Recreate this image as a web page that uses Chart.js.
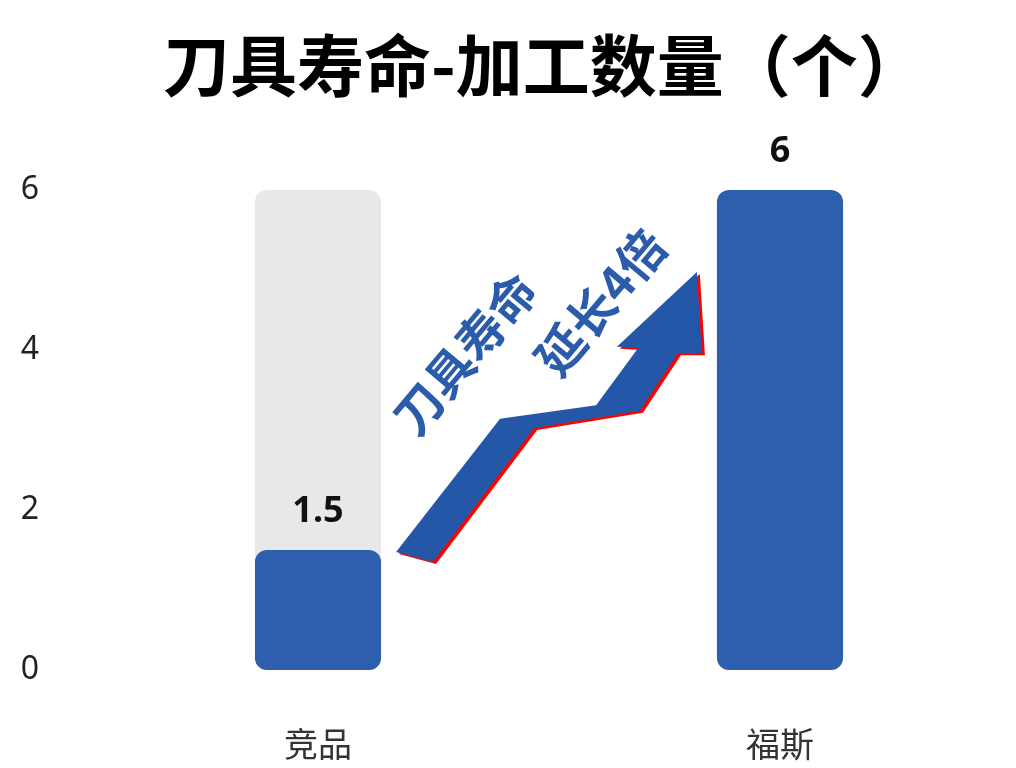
<!DOCTYPE html>
<html lang="zh-CN">
<head>
<meta charset="utf-8">
<title>刀具寿命-加工数量（个）</title>
<script src="https://cdn.jsdelivr.net/npm/chart.js@4/dist/chart.umd.min.js"></script>
<style>
  html, body { margin: 0; padding: 0; background: #fff; }
  #wrap { width: 1016px; height: 768px; position: relative; }
</style>
</head>
<body>
<div id="wrap"><canvas id="grafico"></canvas></div>
<script>
/* ============================================================
   DADOS
============================================================ */
const titulo = "刀具寿命-加工数量（个）";
const categorias = ["竞品", "福斯"];
const valores = [1.5, 6];
const fundo = [6, null];          // barra cinza atrás do concorrente
const yTicks = [0, 2, 4, 6];
const valorLabels = ["1.5", "6"];

// seta decorativa (x = índice de categoria, y = valor)
const setaX = [0.169, 0.249, 0.468, 0.697, 0.779, 0.831, 0.820, 0.647, 0.693, 0.602, 0.394];
const setaY = [1.475, 1.35, 3.025, 3.24, 3.96, 3.96, 4.975, 4.04, 4.025, 3.31, 3.14];
const setaTextos = ["刀具寿命", "延长4倍"];
const setaTextoX = [0.318, 0.612];
const setaTextoY = [3.96, 4.6];

const AZUL = "#2E5EAE";
const AZUL_SETA = "#2557A9";
const CINZA = "#E8E8E8";
const CJK = "'Noto Sans CJK SC', 'Noto Sans', sans-serif";

/* ============================================================
   PLUGINS
============================================================ */
const tituloPlugin = {
  id: "titulo",
  afterDraw(chart) {
    const { ctx } = chart;
    ctx.save();
    ctx.fillStyle = "#000";
    ctx.font = `bold 67px ${CJK}`;
    ctx.textAlign = "left";
    ctx.textBaseline = "middle";
    ctx.fillText(titulo, 163, 66);
    ctx.restore();
  },
};

const setaPlugin = {
  id: "seta",
  afterDatasetsDraw(chart) {
    const { ctx, scales: { x, y } } = chart;
    const pts = setaX.map((v, i) => [x.getPixelForValue(v), y.getPixelForValue(setaY[i])]);

    const poly = (dx, dy, cor) => {
      ctx.beginPath();
      pts.forEach(([px, py], i) => (i ? ctx.lineTo(px + dx, py + dy) : ctx.moveTo(px + dx, py + dy)));
      ctx.closePath();
      ctx.fillStyle = cor;
      ctx.fill();
    };

    ctx.save();
    poly(3, 2, "#FF0000");
    poly(0, 0, AZUL_SETA);

    ctx.fillStyle = "#2B5CAB";
    ctx.font = `bold 48px ${CJK}`;
    ctx.textAlign = "center";
    ctx.textBaseline = "middle";
    setaTextos.forEach((t, i) => {
      ctx.save();
      ctx.translate(x.getPixelForValue(setaTextoX[i]), y.getPixelForValue(setaTextoY[i]));
      ctx.rotate((-50 * Math.PI) / 180);
      ctx.fillText(t, 0, 0);
      ctx.restore();
    });
    ctx.restore();
  },
};

const valorPlugin = {
  id: "valores",
  afterDatasetsDraw(chart) {
    const { ctx } = chart;
    const meta = chart.getDatasetMeta(0);
    ctx.save();
    ctx.fillStyle = "#111";
    ctx.font = `bold 36px 'Noto Sans', sans-serif`;
    ctx.textAlign = "center";
    ctx.textBaseline = "middle";
    meta.data.forEach((bar, i) => {
      ctx.fillText(valorLabels[i], bar.x, bar.y - 38);
    });
    ctx.restore();
  },
};

/* ============================================================
   GRÁFICO
============================================================ */
const canvas = document.getElementById("grafico");

new Chart(canvas.getContext("2d"), {
  type: "bar",
  data: {
    labels: categorias,
    datasets: [
      {
        label: "加工数量",
        data: valores,
        backgroundColor: AZUL,
        borderRadius: 12,
        borderSkipped: false,
        order: 1,
      },
      {
        label: "fundo",
        data: fundo,
        backgroundColor: CINZA,
        borderRadius: 12,
        borderSkipped: false,
        order: 2,
      },
    ],
  },
  options: {
    responsive: true,
    maintainAspectRatio: false,
    animation: false,
    layout: { padding: { left: 0, right: 5, top: 190, bottom: 0 } },
    datasets: {
      bar: { grouped: false, categoryPercentage: 1, barPercentage: 0.273 },
    },
    plugins: {
      legend: { display: false },
      tooltip: { enabled: false },
      title: { display: false },
    },
    scales: {
      x: {
        grid: { display: false },
        border: { display: false },
        ticks: {
          color: "#333",
          padding: 46,
          font: { family: CJK, size: 34 },
        },
        afterFit: (s) => { s.height = 98; },
      },
      y: {
        min: 0,
        max: 6,
        grid: { display: false },
        border: { display: false },
        afterBuildTicks: (s) => { s.ticks = yTicks.map((v) => ({ value: v })); },
        ticks: {
          color: "#222",
          padding: 40,
          font: { family: "'Noto Sans', sans-serif", size: 32 },
        },
        afterFit: (s) => { s.width = 87; },
      },
    },
  },
  plugins: [setaPlugin, valorPlugin, tituloPlugin],
});
</script>
</body>
</html>
